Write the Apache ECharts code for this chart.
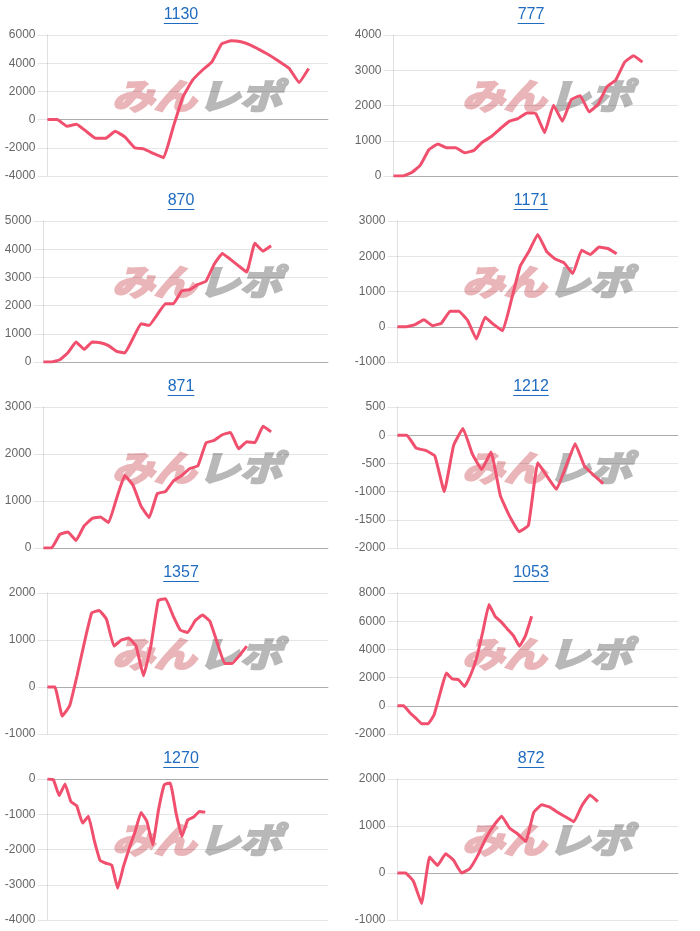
<!DOCTYPE html>
<html>
<head>
<meta charset="utf-8">
<script src="https://cdn.jsdelivr.net/npm/echarts@6/dist/echarts.min.js"></script>
<style>
    html, body { margin: 0; padding: 0; background: #fff; }
    #chart { width: 700px; height: 931px; }
</style>
</head>
<body>
<div id="chart"></div>
<script>
// 台番号
const machineNames = ["1130", "777", "870", "1171", "871", "1212", "1357", "1053", "1270", "872"];

// 差枚推移
const data1130 = [0, 0, -470, -330, -830, -1330, -1330, -830, -1230, -1990, -2090, -2420, -2700, -520, 1610, 2800, 3500, 4100, 5360, 5590, 5520, 5280, 4930, 4550, 4100, 3630, 2630, 3630];
const data777 = [0, 0, 90, 300, 750, 910, 800, 800, 660, 720, 960, 1120, 1340, 1550, 1630, 1790, 1770, 1230, 2010, 1550, 2170, 2280, 1820, 2030, 2530, 2720, 3230, 3410, 3230];
const data870 = [0, 0, 80, 330, 710, 450, 710, 680, 580, 380, 320, 830, 1360, 1300, 1680, 2070, 2070, 2520, 2570, 2750, 2870, 3470, 3850, 3640, 3410, 3190, 4210, 3930, 4120];
const data1171 = [0, 0, 60, 200, 30, 100, 440, 440, 180, -350, 270, 60, -110, 770, 1720, 2140, 2620, 2140, 1920, 1810, 1510, 2170, 2050, 2260, 2220, 2070];
const data871 = [0, 0, 290, 340, 160, 470, 630, 660, 540, 1060, 1540, 1340, 890, 650, 1160, 1200, 1430, 1540, 1690, 1750, 2240, 2290, 2410, 2460, 2110, 2260, 2240, 2590, 2470];
const data1212 = [0, 0, -230, -270, -370, -1000, -180, 120, -330, -610, -300, -1070, -1440, -1710, -1600, -490, -730, -960, -560, -150, -550, -710, -860];
const data1357 = [0, 0, -620, -400, 240, 950, 1580, 1630, 1440, 870, 1000, 1040, 870, 240, 870, 1840, 1880, 1520, 1210, 1160, 1410, 1530, 1400, 940, 500, 500, 670, 870];
const data1053 = [0, 0, -470, -880, -1280, -1280, -640, 900, 2320, 1900, 1850, 1370, 2200, 3440, 5280, 7180, 6350, 5950, 5450, 4980, 4220, 4980, 6350];
const data1270 = [0, -20, -470, -140, -640, -760, -1250, -1060, -1740, -2310, -2390, -2440, -3100, -2480, -1960, -1490, -950, -1200, -1870, -870, -160, -110, -970, -1630, -1160, -1080, -920, -940];
const data872 = [0, 0, -180, -650, 340, 160, 410, 270, 0, 90, 370, 730, 1010, 1210, 950, 830, 670, 1290, 1450, 1400, 1290, 1190, 1090, 1430, 1660, 1520];

const seriesData = [data1130, data777, data870, data1171, data871, data1212, data1357, data1053, data1270, data872];

// x軸の枠数, y軸の範囲
const slotCounts = [30, 33, 36, 33, 36, 31, 39, 47, 49, 36];
const yMins = [-4000, 0, 0, -1000, 0, -2000, -1000, -2000, -4000, -1000];
const yMaxs = [6000, 4000, 5000, 3000, 3000, 500, 2000, 8000, 0, 2000];
const ySteps = [2000, 1000, 1000, 1000, 1000, 500, 1000, 2000, 1000, 1000];

const lineColor = "#f0506e";
const linkColor = "#1f6bbf";
const fontFamily = '"Liberation Sans", Arial, sans-serif';
const logoFont = 'italic bold 35px "Noto Sans CJK JP"';

const chartDOM = document.getElementById("chart");
const myChart = echarts.init(chartDOM);

// タイトル下線の幅を測る
const measureCtx = document.createElement("canvas").getContext("2d");
measureCtx.font = "16px " + fontFamily;

const grids = [];
const xAxes = [];
const yAxes = [];
const series = [];
const graphics = [];

machineNames.forEach((name, i) => {
    const cellX = (i % 2) * 350;
    const cellY = Math.floor(i / 2) * 186;
    const left = cellX + (yMins[i] < 0 ? 47.5 : 43.5);

    grids.push({
        left: left,
        top: cellY + 35,
        width: cellX + 328 - left,
        height: 141,
    });
    xAxes.push({
        type: "category",
        gridIndex: i,
        boundaryGap: false,
        data: Array.from({ length: slotCounts[i] }, (_, k) => String(k + 1)),
        axisLine: { onZero: true, lineStyle: { color: "rgba(0,0,0,0.25)", width: 1 } },
        axisTick: { show: false },
        axisLabel: { show: false },
        splitLine: { show: false },
    });
    yAxes.push({
        type: "value",
        gridIndex: i,
        min: yMins[i],
        max: yMaxs[i],
        interval: ySteps[i],
        axisLine: { show: true, lineStyle: { color: "rgba(0,0,0,0.12)" } },
        axisTick: { show: true, length: 10, lineStyle: { color: "rgba(0,0,0,0.1)" } },
        axisLabel: {
            color: "#666",
            fontSize: 12,
            fontFamily: fontFamily,
            margin: 12,
            formatter: (v) => String(v),
        },
        splitLine: { lineStyle: { color: "rgba(0,0,0,0.1)" } },
    });
    series.push({
        name: name,
        type: "line",
        xAxisIndex: i,
        yAxisIndex: i,
        data: seriesData[i],
        showSymbol: false,
        smooth: 0.1,
        z: 5,
        lineStyle: { color: lineColor, width: 3 },
        itemStyle: { color: lineColor },
    });

    // ロゴ (透かし)
    graphics.push({
        type: "text",
        x: cellX + 112,
        y: cellY + 96,
        scaleX: 1.2,
        z: -1,
        style: {
            text: "みん",
            fill: "#eab5b9",
            stroke: "#eab5b9",
            lineWidth: 2.5,
            font: logoFont,
            verticalAlign: "middle",
            align: "left",
        },
    });
    graphics.push({
        type: "text",
        x: cellX + 198,
        y: cellY + 96,
        scaleX: 1.2,
        z: -1,
        style: {
            text: "レポ",
            fill: "#b8b8b8",
            stroke: "#b8b8b8",
            lineWidth: 2.5,
            font: logoFont,
            verticalAlign: "middle",
            align: "left",
        },
    });

    // タイトル (リンク風)
    const titleWidth = measureCtx.measureText(name).width;
    graphics.push({
        type: "text",
        x: cellX + 181,
        y: cellY + 15,
        style: {
            text: name,
            fill: linkColor,
            font: "16px " + fontFamily,
            align: "center",
            verticalAlign: "middle",
        },
    });
    graphics.push({
        type: "line",
        shape: {
            x1: cellX + 181 - titleWidth / 2,
            y1: cellY + 23.5,
            x2: cellX + 181 + titleWidth / 2,
            y2: cellY + 23.5,
        },
        style: { stroke: linkColor, lineWidth: 1 },
    });
});

myChart.setOption({
    animation: false,
    grid: grids,
    xAxis: xAxes,
    yAxis: yAxes,
    series: series,
    graphic: { elements: graphics },
});
</script>
</body>
</html>
